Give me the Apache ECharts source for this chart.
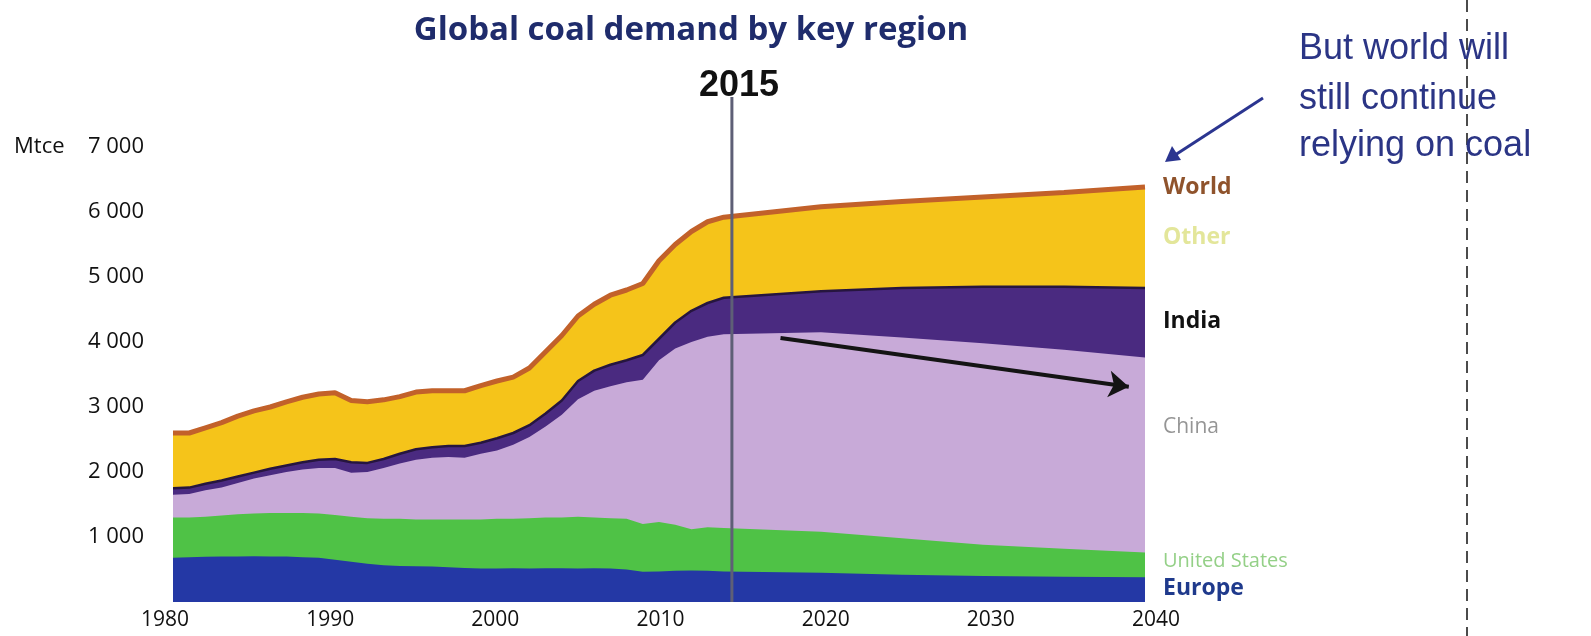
<!DOCTYPE html>
<html><head><meta charset="utf-8">
<script src="https://cdn.jsdelivr.net/npm/echarts@6/dist/echarts.min.js"></script>
<style>html,body{margin:0;padding:0;background:#fff}#c{width:1591px;height:636px}</style>
</head><body><div id="c"></div>
<script>
// Years: historical 1980-2014, projections 2020-2040
const years = [1980,1981,1982,1983,1984,1985,1986,1987,1988,1989,1990,1991,1992,1993,1994,1995,1996,1997,1998,1999,2000,2001,2002,2003,2004,2005,2006,2007,2008,2009,2010,2011,2012,2013,2014,2020,2025,2030,2035,2040];
// Mtce by region
const europe = [680,690,695,700,700,705,700,700,690,680,650,620,590,565,555,550,545,535,525,515,515,520,515,520,520,515,520,515,500,465,470,480,485,480,470,450,420,400,390,380];
const unitedStates = [620,610,615,630,650,655,670,670,680,680,690,690,700,715,725,720,725,735,745,755,765,760,775,780,780,795,780,775,780,735,760,710,635,670,670,630,560,480,430,380];
const china = [350,360,410,430,480,540,580,630,670,700,720,680,710,780,850,920,950,960,950,1010,1050,1140,1250,1400,1580,1810,1950,2030,2100,2220,2490,2710,2880,2930,2980,3070,3090,3100,3060,3000];
const india = [100,100,100,110,100,90,100,100,110,130,140,160,140,140,150,160,160,170,180,170,190,180,180,200,220,280,310,330,340,380,330,400,480,520,560,630,760,870,970,1070];
const other = [850,840,860,890,930,950,950,980,1000,1010,1020,950,940,910,880,880,870,850,850,880,880,860,880,950,1000,1000,1020,1070,1080,1100,1200,1200,1220,1250,1240,1300,1330,1380,1450,1555];
const world = [2600,2600,2680,2760,2860,2940,3000,3080,3150,3200,3220,3100,3080,3110,3160,3230,3250,3250,3250,3330,3400,3460,3600,3850,4100,4400,4580,4720,4800,4900,5250,5500,5700,5850,5920,6080,6160,6230,6300,6385];
const xTickValues = [1980,1990,2000,2010,2020,2030,2040];
const yTickValues = [1000,2000,3000,4000,5000,6000,7000];
const baseYear = 2014.5;
const trendArrow = [[2017.5, 4060], [2039, 3310]];

// Stack the regions (bottom to top) so each band sits on the ones below it
const layers = [europe, unitedStates, china, india, other];
const cumulative = [];
layers.forEach((arr, k) => {
  cumulative.push(arr.map((v, i) => v + (k ? cumulative[k - 1][i] : 0)));
});
const pairs = arr => years.map((y, i) => [y, arr[i]]);
const FONT = "'Open Sans', 'Noto Sans', sans-serif";
const NARROW = "'Liberation Sans Narrow', 'Open Sans', sans-serif";
const ARIAL = "'Liberation Sans', Arial, sans-serif";

const chart = echarts.init(document.getElementById('c'), null, {renderer: 'canvas'});

function band(name, k, color, lineOpt) {
  return {
    name, type: 'line', data: pairs(cumulative[k]),
    symbol: 'none', smooth: false,
    lineStyle: lineOpt || {width: 0, color: color},
    areaStyle: {color: color, opacity: 1, origin: 'start'},
    itemStyle: {color: color},
    z: 2
  };
}

const option = {
  animation: false,
  backgroundColor: '#ffffff',
  grid: [
    {left: 173, right: 446, top: 147, bottom: 34, containLabel: false},
    // year labels of the source sit a little wider than the plotted area
    {left: 165, right: 435, top: 147, bottom: 34, containLabel: false}
  ],
  xAxis: [{
    type: 'value', gridIndex: 0, min: 1980, max: 2040, interval: 10,
    axisLine: {show: false}, axisTick: {show: false}, splitLine: {show: false},
    axisLabel: {show: false}
  }, {
    type: 'value', gridIndex: 1, min: 1980, max: 2040, interval: 10,
    axisLine: {show: false}, axisTick: {show: false}, splitLine: {show: false},
    axisLabel: {color: '#111', fontSize: 21, fontFamily: NARROW, margin: 8,
      formatter: v => xTickValues.includes(v) ? String(v) : ''}
  }],
  yAxis: [{
    type: 'value', gridIndex: 0, min: 0, max: 7000, interval: 1000,
    axisLine: {show: false}, axisTick: {show: false}, splitLine: {show: false},
    axisLabel: {color: '#111', fontSize: 22, fontFamily: FONT, margin: 29, showMinLabel: false,
      formatter: v => yTickValues.includes(v) ? String(v).replace(/\B(?=(\d{3})+(?!\d))/g, ' ') : ''}
  }, {
    type: 'value', gridIndex: 1, min: 0, max: 7000, show: false
  }],
  series: [
    band('Other', 4, '#f5c41a'),
    band('India', 3, '#4a2a80', {width: 2.5, color: '#26153f'}),
    band('China', 2, '#c8aad8'),
    band('United States', 1, '#4fc246'),
    band('Europe', 0, '#2438a5'),
    {
      name: 'World', type: 'line', data: pairs(world), symbol: 'none',
      lineStyle: {color: '#c2612a', width: 5}, z: 3,
      markLine: {
        silent: true, symbol: ['none', 'arrow'], symbolSize: 20,
        lineStyle: {color: '#141414', width: 4, type: 'solid'},
        label: {show: false}, z: 8,
        data: [[{coord: trendArrow[0]}, {coord: trendArrow[1]}]]
      }
    }
  ]
};
chart.setOption(option);

const px = chart.convertToPixel({xAxisIndex: 0}, baseYear);
const y0 = chart.convertToPixel({yAxisIndex: 0}, 0);

const labelX = chart.convertToPixel({xAxisIndex: 0}, 2040) + 18;
function txt(text, x, y, size, color, weight, family, align) {
  return {type: 'text', x: x, y: y, z: 10,
    style: {text: text, fontSize: size, fill: color, fontWeight: weight || 'normal',
      fontFamily: family || FONT, align: align || 'left', verticalAlign: 'middle'}};
}

chart.setOption({
  graphic: [
    txt('Global coal demand by key region', 691, 31, 33, '#1f2c6c', 'bold', FONT, 'center'),
    txt('2015', 739, 86, 36, '#111', 'bold', ARIAL, 'center'),
    txt('Mtce', 14, 147, 22, '#111', 'normal'),
    {type: 'line', z: 5, shape: {x1: px, y1: 97, x2: px, y2: y0},
      style: {stroke: '#5e5f76', lineWidth: 3}},
    txt('World', labelX, 187, 23, '#8f532c', 'bold'),
    txt('Other', labelX, 237, 23, '#e3e69a', 'bold'),
    txt('India', labelX, 321, 23, '#111', 'bold'),
    txt('China', labelX, 427, 21, '#959595', 'normal'),
    txt('United States', labelX, 561, 20, '#94d087', 'normal'),
    txt('Europe', labelX, 588, 23, '#1f3a8c', 'bold'),
    txt('But world will', 1299, 49, 36, '#2b3585', 'normal', ARIAL),
    txt('still continue', 1299, 99, 36, '#2b3585', 'normal', ARIAL),
    txt('relying on coal', 1299, 146, 36, '#2b3585', 'normal', ARIAL),
    {type: 'line', z: 6, shape: {x1: 1263, y1: 98, x2: 1172, y2: 157},
      style: {stroke: '#2b3590', lineWidth: 3}},
    {type: 'polygon', z: 6, shape: {points: [[1165, 162], [1172, 146], [1181, 160]]},
      style: {fill: '#2b3590'}},
    {type: 'line', z: 6, shape: {x1: 1467, y1: 0, x2: 1467, y2: 636},
      style: {stroke: '#111', lineWidth: 1.5, lineDash: [12, 7]}}
  ]
});
</script>
</body></html>
